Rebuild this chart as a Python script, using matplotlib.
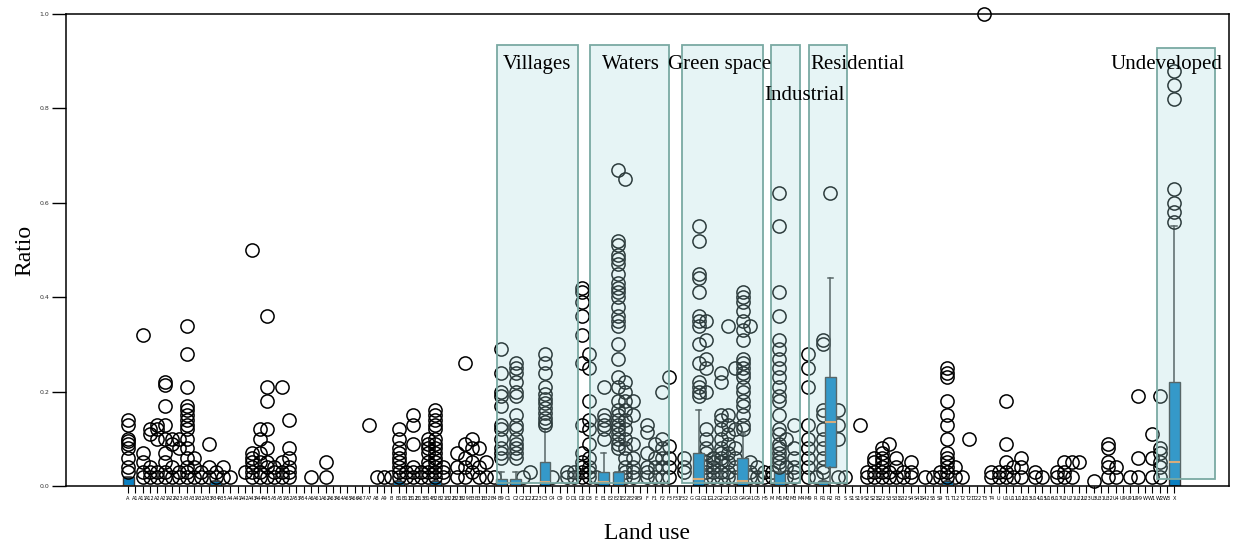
import matplotlib.pyplot as plt
import numpy as np
from matplotlib.patches import Rectangle

# land-use codes along the x axis
land_use = [
    "A", "A1", "A11", "A12", "A2", "A21", "A22", "A23", "A3", "A31", "A32", "A33", "A34", "A35",
    "A4", "A41", "A42", "A43", "A44", "A45", "A5", "A51", "A52", "A53", "A54", "A6", "A61",
    "A62", "A63", "A64", "A65", "A66", "A67", "A7", "A8", "A9",
    "B", "B1", "B11", "B12", "B13", "B14", "B2", "B21", "B22", "B23", "B29", "B3", "B31",
    "B32", "B4", "B9",
    "C1", "C2", "C21", "C22", "C23", "C3", "C4", "C9",
    "D", "D1", "D2", "D3",
    "E", "E1", "E2", "E21", "E22", "E29", "E9",
    "F", "F1", "F2", "F3", "F31", "F32",
    "G", "G1", "G11", "G12", "G2", "G21", "G3", "G4", "G41", "G5",
    "H5",
    "M", "M1", "M2", "M3", "M4", "M9",
    "R", "R1", "R2", "R3",
    "S", "S1", "S19", "S2", "S21", "S22", "S3", "S31", "S32", "S4", "S41", "S42", "S5", "S9",
    "T1", "T12", "T2", "T21", "T22", "T3", "T4",
    "U", "U1", "U11", "U12", "U13", "U14", "U15", "U16", "U17", "U2", "U21", "U22", "U23",
    "U3", "U31", "U32", "U4", "U9", "U91", "U99",
    "W", "W1", "W2", "W3", "X",
]

# box statistics (only where a box is visible)
box_q1 = {"R2": 0.04}
box_median = {"C3": 0.008, "E1": 0.008, "G1": 0.015, "G4": 0.01, "R2": 0.135, "X": 0.05}
box_q3 = {
    "A": 0.02, "A34": 0.01, "B1": 0.01, "B2": 0.01, "B9": 0.015, "C2": 0.015, "C3": 0.05,
    "E1": 0.03, "E21": 0.03, "G1": 0.07, "G4": 0.06, "M1": 0.03, "R1": 0.01, "R2": 0.23,
    "T1": 0.01, "X": 0.22,
}
whisker_high = {
    "B9": 0.03, "C2": 0.03, "C3": 0.12, "E1": 0.07, "G1": 0.16, "G4": 0.11,
    "R2": 0.44, "X": 0.55,
}

# outliers per land-use code
outliers = {
    "A": [0.14, 0.13, 0.10, 0.095, 0.09, 0.08, 0.06, 0.04, 0.03],
    "A11": [0.32, 0.07, 0.05, 0.03, 0.02],
    "A12": [0.12, 0.11, 0.04, 0.03, 0.02],
    "A2": [0.13, 0.12, 0.10, 0.03, 0.02],
    "A21": [0.22, 0.215, 0.17, 0.13, 0.10, 0.07, 0.05, 0.03, 0.02],
    "A22": [0.10, 0.09, 0.04, 0.02],
    "A23": [0.10, 0.08, 0.03, 0.02],
    "A3": [0.34, 0.28, 0.21, 0.17, 0.16, 0.15, 0.14, 0.13, 0.12, 0.10, 0.08, 0.06, 0.04, 0.03, 0.02],
    "A31": [0.06, 0.04, 0.02],
    "A32": [0.03, 0.02],
    "A33": [0.09, 0.04, 0.02],
    "A34": [0.03, 0.02],
    "A35": [0.04, 0.02],
    "A4": [0.02],
    "A42": [0.03],
    "A43": [0.50, 0.07, 0.06, 0.05, 0.04, 0.03, 0.02],
    "A44": [0.12, 0.10, 0.07, 0.05, 0.03, 0.02],
    "A45": [0.36, 0.21, 0.18, 0.12, 0.08, 0.05, 0.04, 0.02],
    "A5": [0.04, 0.03, 0.02],
    "A51": [0.21, 0.05, 0.03, 0.02],
    "A52": [0.14, 0.08, 0.06, 0.04, 0.03, 0.02],
    "A6": [0.02],
    "A62": [0.05, 0.02],
    "A7": [0.13],
    "A8": [0.02],
    "A9": [0.02],
    "B": [0.02],
    "B1": [0.12, 0.10, 0.08, 0.07, 0.06, 0.05, 0.04, 0.03, 0.02],
    "B11": [0.03, 0.02],
    "B12": [0.15, 0.13, 0.09, 0.04, 0.03, 0.02],
    "B13": [0.03, 0.02],
    "B14": [0.10, 0.09, 0.08, 0.07, 0.05, 0.04, 0.03, 0.02],
    "B2": [0.16, 0.15, 0.14, 0.13, 0.12, 0.10, 0.09, 0.08, 0.07, 0.06, 0.05, 0.04, 0.03, 0.02],
    "B21": [0.04, 0.03, 0.02],
    "B23": [0.07, 0.04, 0.02],
    "B29": [0.26, 0.09, 0.06, 0.04, 0.02],
    "B3": [0.10, 0.08, 0.05, 0.03],
    "B31": [0.08, 0.04, 0.02],
    "B32": [0.05, 0.02],
    "B4": [0.02],
    "B9": [0.29, 0.24, 0.20, 0.19, 0.17, 0.13, 0.12, 0.10, 0.08, 0.07, 0.06],
    "C2": [0.26, 0.25, 0.24, 0.22, 0.20, 0.19, 0.15, 0.13, 0.12, 0.10, 0.09, 0.08, 0.07, 0.06],
    "C21": [0.02],
    "C22": [0.03],
    "C3": [0.28, 0.26, 0.24, 0.21, 0.195, 0.185, 0.175, 0.165, 0.155, 0.145, 0.135, 0.13],
    "C4": [0.02],
    "D": [0.03, 0.02],
    "D1": [0.03, 0.02],
    "D2": [0.42, 0.41, 0.39, 0.36, 0.32, 0.26, 0.13, 0.07, 0.05, 0.04, 0.03, 0.02],
    "D3": [0.28, 0.25, 0.18, 0.14, 0.12, 0.09, 0.06, 0.04, 0.03, 0.02],
    "E": [0.02],
    "E1": [0.21, 0.15, 0.14, 0.13, 0.12, 0.10],
    "E21": [0.67, 0.52, 0.51, 0.49, 0.48, 0.47, 0.45, 0.43, 0.42, 0.41, 0.40, 0.38, 0.36, 0.35,
            0.34, 0.30, 0.27, 0.23, 0.21, 0.18, 0.16, 0.15, 0.14, 0.13, 0.12, 0.11, 0.10, 0.09, 0.08],
    "E22": [0.65, 0.22, 0.20, 0.18, 0.16, 0.14, 0.12, 0.10, 0.08, 0.06, 0.04, 0.03, 0.02],
    "E29": [0.18, 0.15, 0.09, 0.06, 0.04, 0.03, 0.02],
    "F": [0.13, 0.115, 0.07, 0.04, 0.03, 0.02],
    "F1": [0.09, 0.06, 0.04, 0.02],
    "F2": [0.20, 0.10, 0.08, 0.06, 0.04, 0.02],
    "F3": [0.23, 0.085, 0.06, 0.04, 0.02],
    "F32": [0.06, 0.04, 0.03],
    "G1": [0.55, 0.52, 0.45, 0.44, 0.41, 0.36, 0.35, 0.34, 0.30, 0.26, 0.22, 0.21, 0.20, 0.19],
    "G11": [0.35, 0.31, 0.27, 0.25, 0.20, 0.12, 0.10, 0.08, 0.07, 0.05, 0.04, 0.03, 0.02],
    "G12": [0.06, 0.05, 0.04, 0.03, 0.02],
    "G2": [0.24, 0.22, 0.15, 0.14, 0.12, 0.10, 0.08, 0.07, 0.06, 0.05, 0.03, 0.02],
    "G21": [0.34, 0.15, 0.13, 0.11, 0.09, 0.07, 0.05, 0.03, 0.02],
    "G3": [0.25, 0.12, 0.08, 0.06, 0.04, 0.02],
    "G4": [0.41, 0.40, 0.39, 0.37, 0.35, 0.33, 0.31, 0.27, 0.26, 0.25, 0.24, 0.23, 0.21, 0.20,
           0.18, 0.17, 0.15, 0.13, 0.12],
    "G41": [0.34, 0.05, 0.03, 0.02],
    "G5": [0.04, 0.02],
    "H5": [0.03, 0.02],
    "M": [0.03, 0.02],
    "M1": [0.62, 0.55, 0.41, 0.36, 0.31, 0.29, 0.27, 0.25, 0.23, 0.21, 0.19, 0.18, 0.15, 0.12,
           0.11, 0.09, 0.08, 0.07, 0.06, 0.05, 0.04],
    "M2": [0.10, 0.04, 0.02],
    "M3": [0.13, 0.08, 0.06, 0.04, 0.03, 0.02],
    "M9": [0.28, 0.25, 0.21, 0.13, 0.10, 0.08, 0.06, 0.04, 0.02],
    "R": [0.02],
    "R1": [0.31, 0.30, 0.16, 0.15, 0.12, 0.10, 0.08, 0.06, 0.04, 0.03],
    "R2": [0.62],
    "R3": [0.16, 0.13, 0.10, 0.02],
    "S": [0.02],
    "S19": [0.13],
    "S2": [0.03, 0.02],
    "S21": [0.06, 0.05, 0.03, 0.02],
    "S22": [0.08, 0.07, 0.06, 0.05, 0.04, 0.03, 0.02],
    "S3": [0.09, 0.03, 0.02],
    "S31": [0.06, 0.04, 0.02],
    "S32": [0.03, 0.02],
    "S4": [0.05, 0.03, 0.02],
    "S42": [0.02],
    "S5": [0.02],
    "S9": [0.03, 0.02],
    "T1": [0.25, 0.24, 0.23, 0.18, 0.15, 0.13, 0.10, 0.07, 0.06, 0.05, 0.04, 0.03, 0.02],
    "T12": [0.04, 0.02],
    "T2": [0.02],
    "T21": [0.10],
    "T3": [1.0],
    "T4": [0.03, 0.02],
    "U": [0.03, 0.02],
    "U1": [0.18, 0.09, 0.05, 0.03, 0.02],
    "U11": [0.04, 0.02],
    "U12": [0.06, 0.04, 0.02],
    "U14": [0.03, 0.02],
    "U15": [0.02],
    "U17": [0.03, 0.02],
    "U2": [0.05, 0.03, 0.02],
    "U21": [0.05, 0.02],
    "U22": [0.05],
    "U3": [0.01],
    "U32": [0.09, 0.08, 0.05, 0.04, 0.02],
    "U4": [0.04, 0.02],
    "U91": [0.02],
    "U99": [0.19, 0.06, 0.02],
    "W1": [0.11, 0.06, 0.02],
    "W2": [0.19, 0.08, 0.07, 0.05, 0.04, 0.02],
    "X": [0.88, 0.85, 0.82, 0.63, 0.60, 0.58, 0.56],
}

# highlighted land-use groups
region_names = ["Villages", "Waters", "Green space", "Industrial", "Residential", "Undeveloped"]

box_stats, flier_stats = [], []
box_pos, flier_pos = [], []
for i, code in enumerate(land_use):
    if code in box_q3:
        q3 = box_q3[code]
        box_stats.append(dict(
            med=box_median.get(code, 0.0), q1=box_q1.get(code, 0.0), q3=q3,
            whislo=0.0, whishi=whisker_high.get(code, q3), fliers=outliers.get(code, []),
        ))
        box_pos.append(i)
    elif code in outliers:
        flier_stats.append(dict(med=0, q1=0, q3=0, whislo=0, whishi=0, fliers=outliers[code]))
        flier_pos.append(i)

fig = plt.figure(figsize=(12.34, 5.47), dpi=100)
ax = fig.add_axes([66 / 1234, 61 / 547, 1163 / 1234, 472 / 547])

flierprops = dict(marker="o", markersize=9.5, markerfacecolor="none",
                  markeredgecolor="black", markeredgewidth=1.1, clip_on=False)
ax.bxp(flier_stats, positions=flier_pos, showbox=False, showcaps=False,
       whiskerprops=dict(visible=False), medianprops=dict(visible=False),
       flierprops=flierprops, manage_ticks=False)
ax.bxp(box_stats, positions=box_pos, widths=1.5, patch_artist=True,
       boxprops=dict(facecolor="#0a80c2", edgecolor="#3a3a3a", linewidth=1.0),
       whiskerprops=dict(color="#3a3a3a", linewidth=1.1),
       capprops=dict(color="#3a3a3a", linewidth=1.1),
       medianprops=dict(color="#eb9a55", linewidth=1.5),
       flierprops=flierprops, manage_ticks=False)

# shaded group frames (x in category units), labels placed as in the figure
spans = [(50.44, 61.52), (63.16, 73.96), (75.74, 86.81), (87.90, 91.87), (93.10, 98.29), (140.67, 148.6)]
tops = [0.934, 0.934, 0.934, 0.934, 0.934, 0.928]
bottoms = [0.006, 0.006, 0.006, 0.006, 0.006, 0.015]
text_x = [55.9, 68.8, 80.9, 92.4, 99.7, 141.9]
text_y = [0.894, 0.894, 0.894, 0.828, 0.894, 0.894]
for name, (x0, x1), top, bot, tx, ty in zip(region_names, spans, tops, bottoms, text_x, text_y):
    ax.add_patch(Rectangle((x0, bot), x1 - x0, top - bot, facecolor=(0.65, 0.86, 0.87, 0.28),
                           edgecolor="#7aa9a3", linewidth=1.3, zorder=4))
    ax.text(tx, ty, name, ha="center", va="center", fontsize=15,
            family="Liberation Serif", zorder=5)

ax.set_xlim(-8.48, 150.5)
ax.set_ylim(0, 1.0)
ax.set_xticks(np.arange(len(land_use)))
ax.set_xticklabels(land_use, fontsize=3.6)
ax.set_yticks([0.0, 0.2, 0.4, 0.6, 0.8, 1.0])
ax.set_yticklabels(["0.0", "0.2", "0.4", "0.6", "0.8", "1.0"], fontsize=4.5, color="#333333")
ax.tick_params(axis="x", length=5, width=0.8, pad=2)
ax.tick_params(axis="y", length=10, width=1.0, pad=2)
for spine in ax.spines.values():
    spine.set_linewidth(1.1)

ax.set_xlabel("Land use", fontsize=17, family="Liberation Serif", labelpad=16)
ax.set_ylabel("Ratio", fontsize=17, family="Liberation Serif", labelpad=3)

fig.savefig("out.png", dpi=100)
